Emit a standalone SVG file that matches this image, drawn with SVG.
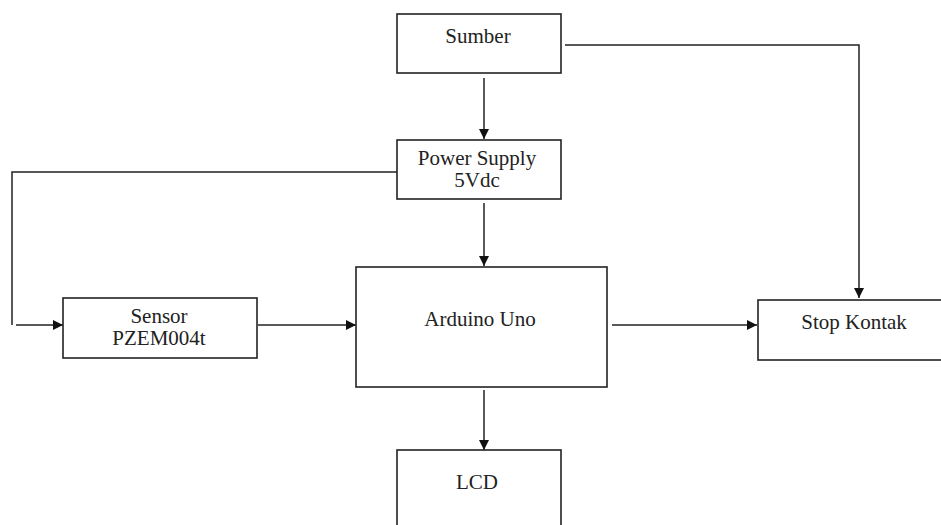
<svg xmlns="http://www.w3.org/2000/svg" width="941" height="525" viewBox="0 0 941 525">
<style>
.box{fill:#fff;stroke:#222;stroke-width:1.6}
.t{font-family:'Liberation Serif','Noto Serif','DejaVu Serif','Times New Roman',Times,serif;font-size:21px;fill:#222;text-anchor:middle}
.c{fill:none;stroke:#222;stroke-width:1.5}
</style>
<defs>
<marker id="ah" viewBox="0 0 10 10" refX="10" refY="5" markerWidth="10" markerHeight="10" markerUnits="userSpaceOnUse" orient="auto">
<path d="M0,0 L10,5 L0,10 z" fill="#111"/>
</marker>
</defs>
<rect width="941" height="525" fill="#fff"/>
<g id="connectors">
<line class="c" x1="484" y1="78" x2="484" y2="139" marker-end="url(#ah)"/>
<polyline class="c" points="565,45 859,45 859,298" marker-end="url(#ah)"/>
<polyline class="c" points="397,172 12,172 12,325"/>
<line class="c" x1="16" y1="325" x2="63" y2="325" marker-end="url(#ah)"/>
<line class="c" x1="258" y1="325" x2="356" y2="325" marker-end="url(#ah)"/>
<line class="c" x1="484" y1="203" x2="484" y2="266" marker-end="url(#ah)"/>
<line class="c" x1="612" y1="325" x2="757" y2="325" marker-end="url(#ah)"/>
<line class="c" x1="484" y1="390" x2="484" y2="450" marker-end="url(#ah)"/>
</g>
<g id="sumber">
<rect class="box" x="397" y="14" width="164" height="59"/>
<text class="t" x="478" y="43">Sumber</text>
</g>
<g id="power-supply">
<rect class="box" x="397" y="140" width="164" height="59"/>
<text class="t" x="477" y="165">Power Supply</text>
<text class="t" x="477" y="187">5Vdc</text>
</g>
<g id="sensor">
<rect class="box" x="63" y="298" width="194" height="60"/>
<text class="t" x="159" y="323">Sensor</text>
<text class="t" x="159" y="345">PZEM004t</text>
</g>
<g id="arduino">
<rect class="box" x="356" y="267" width="251" height="120"/>
<text class="t" x="480" y="326">Arduino Uno</text>
</g>
<g id="stop-kontak">
<rect class="box" x="758" y="300" width="190" height="60"/>
<text class="t" x="854" y="329">Stop Kontak</text>
</g>
<g id="lcd">
<rect class="box" x="397" y="450" width="164" height="85"/>
<text class="t" x="477" y="489">LCD</text>
</g>
</svg>
